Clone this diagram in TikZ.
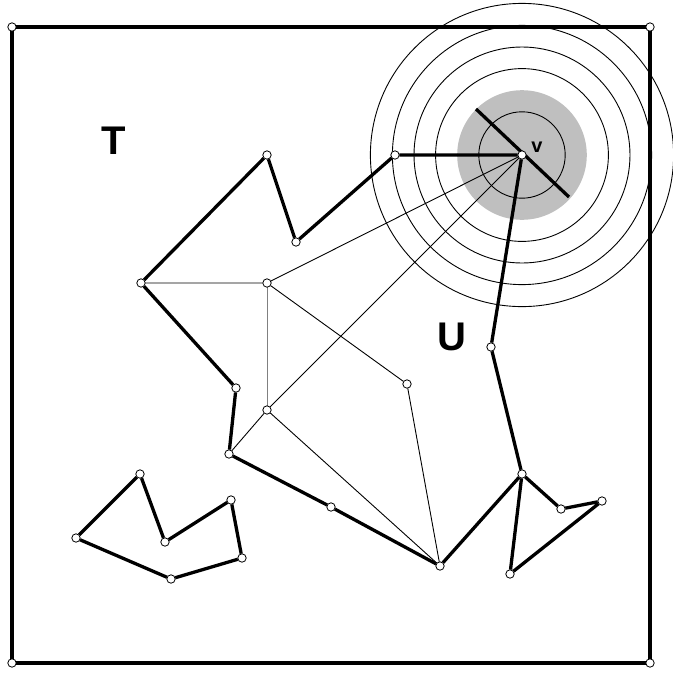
\documentclass[tikz,border=0pt]{standalone}
\usepackage{fontspec}
\setmainfont{Liberation Sans}
\begin{document}
\begin{tikzpicture}[x=1pt,y=-1pt,
  vtx/.style={circle,fill=white,inner sep=0pt,minimum size=8.5pt},
  thick edge/.style={line width=3.3pt},
  thin edge/.style={line width=0.9pt},
  ring/.style={line width=0.9pt},
  lbl/.style={font=\bfseries\fontsize{40}{44}\selectfont,inner sep=0pt}]
\useasboundingbox (0,0) rectangle (673,673);
% rings around v
\fill[gray!50] (522,155) circle (64.8);
\foreach \r in {43.2,86.4,108,129.6,151.6}
  \draw[ring] (522,155) circle (\r);
% vertices
\node[vtx] (c1) at (12,27) {};
\node[vtx] (c2) at (650,27) {};
\node[vtx] (c3) at (650,663) {};
\node[vtx] (c4) at (12,663) {};
\node[vtx] (v) at (522,155) {};
\node[vtx] (A) at (395,155) {};
\node[vtx] (B) at (267,155) {};
\node[vtx] (C) at (296,242) {};
\node[vtx] (D) at (141,283) {};
\node[vtx] (E) at (267,283) {};
\node[vtx] (F) at (236,388) {};
\node[vtx] (G) at (267,410) {};
\node[vtx] (H) at (229,454) {};
\node[vtx] (I) at (407,384) {};
\node[vtx] (J) at (331,507) {};
\node[vtx] (K) at (440,566) {};
\node[vtx] (L) at (522,474) {};
\node[vtx] (M) at (491,347) {};
\node[vtx] (N) at (561,509) {};
\node[vtx] (O) at (602,501) {};
\node[vtx] (P) at (510,574) {};
\node[vtx] (s1) at (140,474) {};
\node[vtx] (s2) at (165,542) {};
\node[vtx] (s3) at (231,500) {};
\node[vtx] (s4) at (242,558) {};
\node[vtx] (s5) at (171,579) {};
\node[vtx] (s6) at (76,538) {};
\coordinate (d1) at (476,109);
\coordinate (d2) at (569,197);
% edges
\draw[thick edge] (c1) -- (c2) -- (c3) -- (c4) -- (c1);
\draw[thick edge] (d1) -- (d2);
\draw[thick edge] (v) -- (A) -- (C) -- (B) -- (D) -- (F) -- (H) -- (J) -- (K) -- (L) -- (M) -- (v);
\draw[thick edge] (L) -- (N) -- (O) -- (P) -- (L);
\draw[thick edge] (s1) -- (s2) -- (s3) -- (s4) -- (s5) -- (s6) -- (s1);
\draw[thin edge] (D) -- (E) -- (I) -- (K) -- (G) -- (H);
\draw[thin edge] (E) -- (v);
\draw[thin edge] (G) -- (v);
\draw[thin edge,gray] (E) -- (G);
% vertex markers on top
\foreach \n in {c1,c2,c3,c4,v,A,B,C,D,E,F,G,H,I,J,K,L,M,N,O,P,s1,s2,s3,s4,s5,s6}
  \draw[line width=0.8pt,fill=white] (\n) circle (4.2pt);
% labels
\node[lbl] (T) at (114,141) {T};
\node[lbl] (U) at (452,337) {U};
\node[font=\bfseries\fontsize{20}{24}\selectfont,inner sep=0pt] (vl) at (537,147) {v};
\end{tikzpicture}
\end{document}
